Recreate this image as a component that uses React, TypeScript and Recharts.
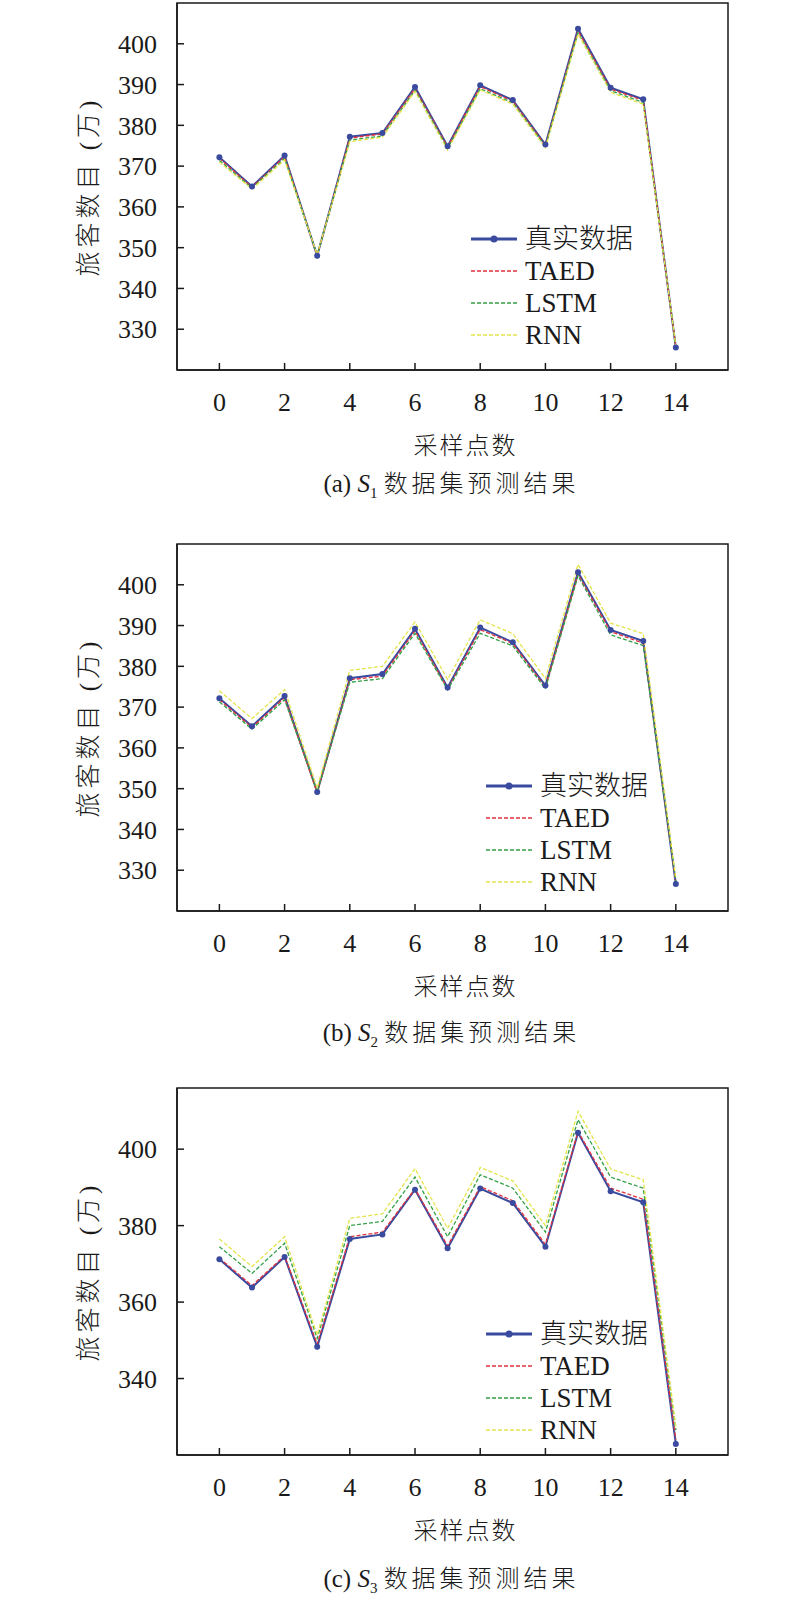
import React from 'react';
import { LineChart, Line, XAxis, YAxis, Legend, ReferenceArea } from 'recharts';

// sampling points (x axis)
const SAMPLES = [0, 1, 2, 3, 4, 5, 6, 7, 8, 9, 10, 11, 12, 13, 14];
const X_TICKS = [0, 2, 4, 6, 8, 10, 12, 14];
const Y_TICKS_AB = [330, 340, 350, 360, 370, 380, 390, 400];
const Y_TICKS_C = [340, 360, 380, 400];

// (a) S1
const REAL_A = [372.2, 365.0, 372.6, 348.0, 377.2, 378.1, 389.4, 374.9, 389.8, 386.2, 375.3, 403.7, 389.2, 386.4, 325.5];
const TAED_A = [371.9, 364.8, 372.3, 348.1, 376.9, 377.9, 389.0, 374.7, 389.5, 385.9, 375.1, 403.2, 388.9, 386.1, 325.6];
const LSTM_A = [371.4, 364.6, 371.9, 348.2, 376.4, 377.4, 388.6, 374.3, 389.0, 385.5, 374.8, 402.7, 388.5, 385.6, 325.8];
const RNN_A = [371.0, 364.4, 371.5, 348.3, 376.0, 377.1, 388.3, 373.9, 388.7, 385.2, 374.5, 402.4, 388.1, 385.2, 325.9];

// (b) S2
const REAL_B = [372.2, 365.3, 372.7, 349.2, 377.1, 378.1, 389.2, 374.8, 389.5, 385.9, 375.3, 403.1, 388.9, 386.2, 326.6];
const TAED_B = [371.8, 365.0, 372.3, 349.0, 376.7, 377.6, 388.7, 374.5, 389.0, 385.6, 374.9, 402.6, 388.5, 385.7, 326.9];
const LSTM_B = [371.3, 364.6, 371.8, 349.3, 376.1, 377.0, 388.1, 374.2, 388.1, 385.0, 374.5, 402.2, 387.7, 385.1, 327.2];
const RNN_B = [374.0, 367.2, 374.3, 350.2, 379.0, 380.0, 390.9, 376.8, 391.4, 388.0, 377.0, 405.0, 390.6, 388.0, 328.0];

// (c) S3
const REAL_C = [371.2, 363.8, 371.8, 348.3, 376.5, 377.7, 389.4, 374.1, 389.7, 385.9, 374.5, 404.3, 389.0, 386.1, 322.9];
const TAED_C = [371.5, 364.3, 372.1, 349.0, 377.1, 378.3, 389.6, 374.7, 390.2, 386.5, 375.1, 404.6, 389.8, 386.9, 324.0];
const LSTM_C = [374.5, 367.5, 375.4, 350.5, 380.0, 381.1, 392.7, 377.1, 393.3, 389.8, 378.3, 407.7, 392.7, 389.8, 326.5];
const RNN_C = [376.5, 369.3, 377.1, 351.4, 381.9, 383.1, 394.9, 379.3, 395.2, 391.7, 380.0, 409.9, 394.8, 392.0, 327.4];

const SERIF = '"Liberation Serif", "Noto Sans CJK SC", serif';
const CJK = '"Noto Sans CJK SC", sans-serif';

const BLUE = '#3a4a9e';
const RED = '#e0323e';
const GREEN = '#34a047';
const YELLOW = '#e4e44c';
const INK = '#1a1a1a';

const SERIES = [
  { key: 'real', name: '真实数据', color: BLUE, dash: undefined, width: 2 },
  { key: 'taed', name: 'TAED', color: RED, dash: '4 2', width: 1.3 },
  { key: 'lstm', name: 'LSTM', color: GREEN, dash: '4 2', width: 1.3 },
  { key: 'rnn', name: 'RNN', color: YELLOW, dash: '4 2', width: 1.3 },
];

const X_DOMAIN: [number, number] = [-1.3, 15.6];
const PLOT_H = 367;
const MT = 3;
const AXIS_H = 90;
const Y_AXIS_W = 177;
const MR = 72;
const W = 800;

function buildRows(real: number[], taed: number[], lstm: number[], rnn: number[]) {
  return SAMPLES.map((x, i) => ({ x, real: real[i], taed: taed[i], lstm: lstm[i], rnn: rnn[i] }));
}

function LegendBox() {
  return (
    <div style={{ fontFamily: SERIF, fontSize: 27, color: INK }}>
      {SERIES.map((s) => (
        <div key={s.key} style={{ display: 'flex', alignItems: 'center', height: 32 }}>
          <svg width={54} height={32} style={{ flex: 'none' }}>
            <line
              x1={0}
              x2={46}
              y1={16}
              y2={16}
              stroke={s.color}
              strokeWidth={s.dash ? 1.5 : 3}
              strokeDasharray={s.dash}
            />
            {!s.dash && <circle cx={23} cy={16} r={3.5} fill={s.color} />}
          </svg>
          <span style={{ lineHeight: '32px', fontWeight: s.dash ? 400 : 300 }}>{s.name}</span>
        </div>
      ))}
    </div>
  );
}

type PanelProps = {
  boxTop: number;
  rows: ReturnType<typeof buildRows>;
  domain: [number, number];
  yTicks: number[];
  legendLeft: number;
  legendTop: number;
  captionMid: number;
  tag: string;
  sub: string;
};

function Panel({ boxTop, rows, domain, yTicks, legendLeft, legendTop, captionMid, tag, sub }: PanelProps) {
  const tickStyle = { fontFamily: SERIF, fontSize: 26, fill: INK };
  return (
    <>
      <div style={{ position: 'absolute', left: 0, top: boxTop - MT }}>
        <LineChart
          width={W}
          height={MT + PLOT_H + AXIS_H}
          data={rows}
          margin={{ top: MT, right: MR, bottom: 0, left: 0 }}
        >
          <XAxis
            dataKey="x"
            type="number"
            domain={X_DOMAIN}
            allowDataOverflow
            ticks={X_TICKS}
            height={AXIS_H}
            tickSize={-7}
            tickMargin={30}
            axisLine={{ stroke: INK, strokeWidth: 1.5 }}
            tickLine={{ stroke: INK, strokeWidth: 1.5 }}
            tick={tickStyle}
            label={{
              value: '采样点数',
              position: 'insideBottom',
              offset: 6,
              dx: 13,
              style: { fontFamily: CJK, fontSize: 24, fontWeight: 300, fill: INK, letterSpacing: 2 },
            }}
          />
          <YAxis
            type="number"
            domain={domain}
            allowDataOverflow
            ticks={yTicks}
            width={Y_AXIS_W}
            tickSize={-7}
            tickMargin={27}
            axisLine={{ stroke: INK, strokeWidth: 1.5 }}
            tickLine={{ stroke: INK, strokeWidth: 1.5 }}
            tick={tickStyle}
            label={{
              value: '旅客数目 (万)',
              angle: -90,
              position: 'center',
              style: { fontFamily: SERIF, fontSize: 25, fontWeight: 300, fill: INK, letterSpacing: 4 },
            }}
          />
          {/* frame: closes the box on the top and right */}
          <ReferenceArea
            x1={X_DOMAIN[0]}
            x2={X_DOMAIN[1]}
            y1={domain[0]}
            y2={domain[1]}
            fill="none"
            stroke={INK}
            strokeWidth={1.5}
            ifOverflow="visible"
          />
          <Legend
            layout="vertical"
            align="center"
            verticalAlign="middle"
            wrapperStyle={{ left: legendLeft, top: legendTop, width: 220 }}
            content={() => <LegendBox />}
          />
          {SERIES.map((s) => (
            <Line
              key={s.key}
              type="linear"
              dataKey={s.key}
              name={s.name}
              stroke={s.color}
              strokeWidth={s.width}
              strokeDasharray={s.dash}
              dot={s.dash ? false : { r: 3, fill: s.color, stroke: s.color, strokeWidth: 0 }}
              activeDot={false}
              isAnimationActive={false}
            />
          ))}
        </LineChart>
      </div>
      <div
        style={{
          position: 'absolute',
          left: 0,
          width: 903,
          top: captionMid - 16,
          height: 32,
          lineHeight: '32px',
          textAlign: 'center',
          fontFamily: SERIF,
          fontSize: 25,
          color: INK,
          whiteSpace: 'nowrap',
        }}
      >
        {tag}{' '}
        <i>S</i>
        <span style={{ fontSize: 15, position: 'relative', top: 6 }}>{sub}</span>{' '}
        <span style={{ fontFamily: CJK, fontSize: 24, fontWeight: 300, letterSpacing: 4 }}>数据集预测结果</span>
      </div>
    </>
  );
}

export default function App() {
  return (
    <div style={{ position: 'absolute', left: 0, top: 0, width: 800, height: 1600, background: '#fff', overflow: 'hidden' }}>
      <Panel
        boxTop={2.7}
        rows={buildRows(REAL_A, TAED_A, LSTM_A, RNN_A)}
        domain={[320, 410]}
        yTicks={Y_TICKS_AB}
        legendLeft={471}
        legendTop={MT + 220}
        captionMid={482}
        tag="(a)"
        sub="1"
      />
      <Panel
        boxTop={544.3}
        rows={buildRows(REAL_B, TAED_B, LSTM_B, RNN_B)}
        domain={[320, 410]}
        yTicks={Y_TICKS_AB}
        legendLeft={486}
        legendTop={MT + 226}
        captionMid={1031}
        tag="(b)"
        sub="2"
      />
      <Panel
        boxTop={1087.7}
        rows={buildRows(REAL_C, TAED_C, LSTM_C, RNN_C)}
        domain={[320, 416]}
        yTicks={Y_TICKS_C}
        legendLeft={486}
        legendTop={MT + 230}
        captionMid={1577}
        tag="(c)"
        sub="3"
      />
    </div>
  );
}
